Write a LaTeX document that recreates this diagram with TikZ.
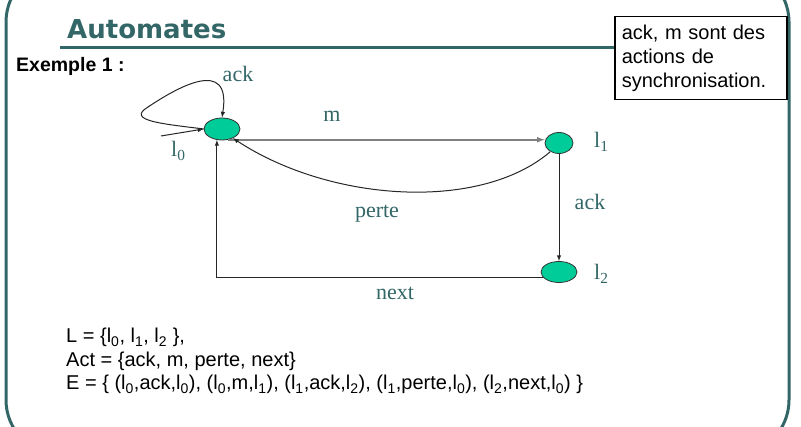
\documentclass[tikz,border=0pt]{standalone}
\usepackage{fontspec}
\setmainfont{Liberation Sans}
\newfontfamily\seriflbl{Liberation Serif}
\newfontfamily\titlefont{DejaVu Sans}
\usepackage{tikz}
\usetikzlibrary{shapes.geometric}
\definecolor{slate}{RGB}{51,102,102}
\definecolor{stategreen}{RGB}{0,204,153}

\begin{document}
\begin{tikzpicture}[x=1pt, y=1pt, >=latex,
		state/.style={ellipse, draw=black!80, line width=0.8pt, fill=stategreen, inner sep=0pt, minimum width=36pt, minimum height=22pt},
		edge/.style={->, black!85, line width=1pt},
		lbl/.style={text=slate, inner sep=0pt, font=\seriflbl\fontsize{22}{24}\selectfont},
		txt/.style={anchor=base west, inner sep=0pt, font=\fontsize{20}{24}\selectfont}]
				\useasboundingbox (0,0) rectangle (801,427);
				\clip (0,0) rectangle (801,427);
				\draw[slate, line width=3pt, rounded corners=55pt] (6,-28) rectangle (789,460);
				\draw[slate, line width=3pt] (60,379) -- (789,379);
				\node[anchor=base west, inner sep=0pt, text=slate, font=\titlefont\bfseries\fontsize{26}{30}\selectfont] (titre) at (67,388) {Automates};
				\node[anchor=base west, inner sep=0pt, font=\bfseries\fontsize{19.5}{22}\selectfont] (exemple) at (16,355) {Exemple 1 :};
				\node[draw, line width=1.5pt, fill=white, anchor=north west, inner xsep=7pt, text width=158pt, minimum height=83pt, align=left, font=\fontsize{20}{24}\selectfont] (note) at (614,411) {ack, m sont des\\actions de\\synchronisation.};
				% etats
				\node[state] (l0) at (222,298) {};
				\node[state, minimum width=28pt, minimum height=21pt] (l1) at (559,284) {};
				\node[state, minimum height=21pt] (l2) at (559,155) {};
				\coordinate (init) at (161,291);
				% transitions
				\draw[edge] (init) -- (l0.west);
				\draw[edge] (l0.west) .. controls (165,303) and (125,306) .. (148,320) .. controls (175,338) and (232,372) .. (l0.north);
				\draw[edge, black!50, line width=1.6pt] (l0.-60) -- (l0.-60 -| l1.west);
				\draw[edge] (l1.south) -- (l2.north);
				\draw[edge] (l1.225) .. controls (480,215) and (330,225) .. (l0.-40);
				\draw[edge] (l2.200) -| (l0.245);
				% etiquettes
				\node[lbl, anchor=base] (eack) at (238,345) {ack};
				\node[lbl, anchor=base] (em) at (332,305) {m};
				\node[lbl, anchor=base] (eperte) at (377,209) {perte};
				\node[lbl, anchor=base] (eack2) at (590,217) {ack};
				\node[lbl, anchor=base] (enext) at (395,127) {next};
				\node[lbl, anchor=base west] (nl0) at (171,270) {l\textsubscript{0}};
				\node[lbl, anchor=base west] (nl1) at (594,279) {l\textsubscript{1}};
				\node[lbl, anchor=base west] (nl2) at (594,147) {l\textsubscript{2}};
				% ensembles
				\node[txt] (setL) at (66,84) {L = \{l\textsubscript{0}, l\textsubscript{1}, l\textsubscript{2} \},};
				\node[txt] (setAct) at (66,60) {Act = \{ack, m, perte, next\}};
				\node[txt] (setE) at (66,37) {E = \{ (l\textsubscript{0},ack,l\textsubscript{0}), (l\textsubscript{0},m,l\textsubscript{1}), (l\textsubscript{1},ack,l\textsubscript{2}), (l\textsubscript{1},perte,l\textsubscript{0}), (l\textsubscript{2},next,l\textsubscript{0}) \}};
			\end{tikzpicture}
\end{document}
